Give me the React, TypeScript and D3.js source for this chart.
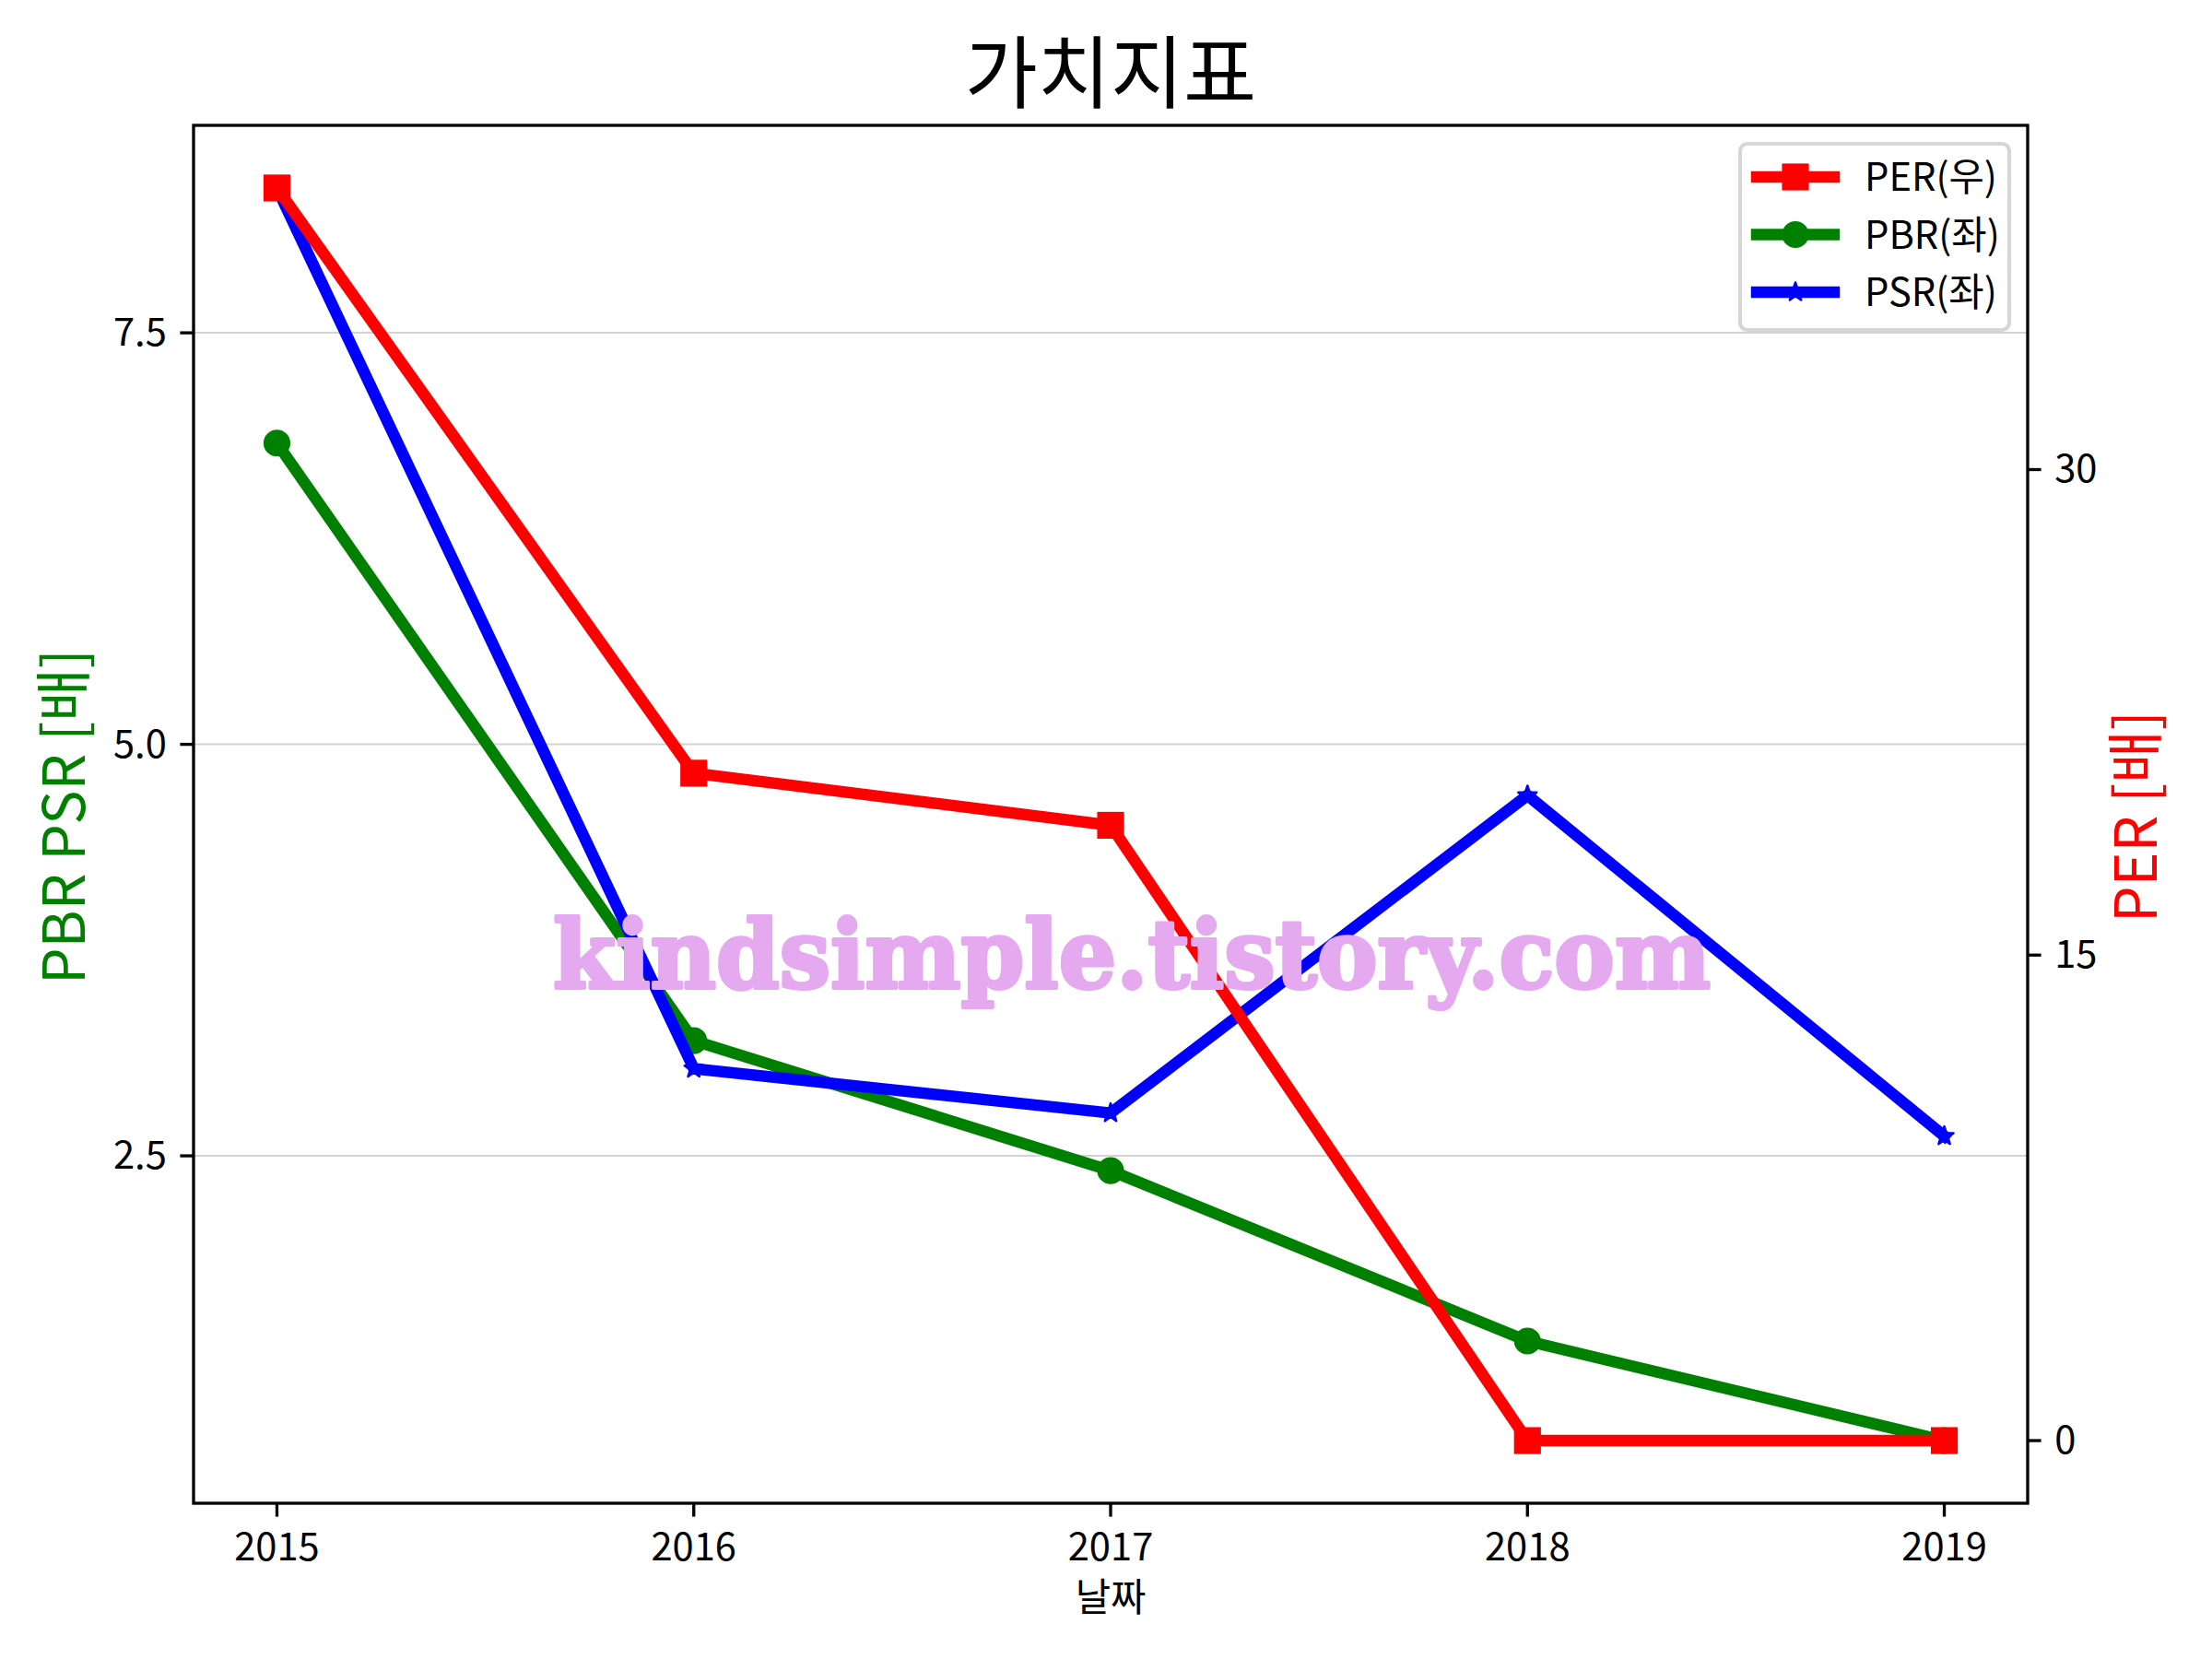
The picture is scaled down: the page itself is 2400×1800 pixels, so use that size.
import React from 'react';
import * as d3 from 'd3';

const years = [2015, 2016, 2017, 2018, 2019];
const perValues = [38.7, 20.62, 19.01, 0, 0];
const pbrValues = [6.83, 3.2, 2.41, 1.375, 0.77];
const psrValues = [8.38, 3.03, 2.76, 4.69, 2.62];
const leftTicks = [2.5, 5.0, 7.5];
const rightTicks = [0, 15, 30];
const titleText = '가치지표';
const xLabelText = '날짜';
const leftLabelText = 'PBR PSR [배]';
const rightLabelText = 'PER [배]';
const legendLabels = ['PER(우)', 'PBR(좌)', 'PSR(좌)'];
const watermarkText = 'kindsimple.tistory.com';

const W = 2400;
const H = 1800;
const L = 210;
const R = 2200;
const T = 136;
const B = 1631;
const FONT = "'Noto Sans CJK KR', 'Noto Sans', sans-serif";
const LW = 12.5;
const MS = 25;
const MEW = 4.17;

function padded(vals: number[]): [number, number] {
  const mn = d3.min(vals) as number;
  const mx = d3.max(vals) as number;
  const m = (mx - mn) * 0.05;
  return [mn - m, mx + m];
}

function starPath(cx: number, cy: number, r: number) {
  const inner = r * 0.381966;
  const pts: string[] = [];
  for (let i = 0; i < 10; i++) {
    const a = -Math.PI / 2 + (i * Math.PI) / 5;
    const rr = i % 2 === 0 ? r : inner;
    pts.push(`${cx + rr * Math.cos(a)},${cy + rr * Math.sin(a)}`);
  }
  return `M${pts.join('L')}Z`;
}

function Marker({ kind, x, y, color }: { kind: string; x: number; y: number; color: string }) {
  if (kind === 's') {
    return <rect x={x - MS / 2} y={y - MS / 2} width={MS} height={MS} fill={color} stroke={color} strokeWidth={MEW} strokeLinejoin="miter" />;
  }
  if (kind === 'o') {
    return <circle cx={x} cy={y} r={MS / 2} fill={color} stroke={color} strokeWidth={MEW} />;
  }
  return <path d={starPath(x, y, 10.5)} fill={color} stroke={color} strokeWidth={MEW * 0.6} strokeLinejoin="round" />;
}

export default function App() {
  const xDom = padded(years);
  const x = d3.scaleLinear().domain(xDom).range([L, R]);
  const yL = d3.scaleLinear().domain(padded([...pbrValues, ...psrValues])).range([B, T]);
  const yR = d3.scaleLinear().domain(padded(perValues)).range([B, T]);

  const lineL = d3.line<number>().x((_, i) => x(years[i])).y((d) => yL(d));
  const lineR = d3.line<number>().x((_, i) => x(years[i])).y((d) => yR(d));

  const series = [
    { vals: pbrValues, color: 'green', kind: 'o', scale: yL, gen: lineL },
    { vals: psrValues, color: 'blue', kind: '*', scale: yL, gen: lineL },
    { vals: perValues, color: 'red', kind: 's', scale: yR, gen: lineR },
  ];

  const legendItems = [
    { label: legendLabels[0], color: 'red', kind: 's' },
    { label: legendLabels[1], color: 'green', kind: 'o' },
    { label: legendLabels[2], color: 'blue', kind: '*' },
  ];

  const tickLen = 14.6;
  const tickW = 3.33;

  return (
    <svg width={W} height={H} viewBox={`0 0 ${W} ${H}`} style={{ position: 'absolute', left: 0, top: 0, display: 'block', background: 'white' }}>
      <rect x={0} y={0} width={W} height={H} fill="white" />
      {leftTicks.map((t) => (
        <line key={`g${t}`} x1={L} x2={R} y1={yL(t)} y2={yL(t)} stroke="#d3d3d3" strokeWidth={2} />
      ))}
      {series.map((s, si) => (
        <g key={si}>
          <path d={s.gen(s.vals) || ''} fill="none" stroke={s.color} strokeWidth={LW} strokeLinecap="square" strokeLinejoin="round" />
          {s.vals.map((v, i) => (
            <Marker key={i} kind={s.kind} x={x(years[i])} y={s.scale(v)} color={s.color} />
          ))}
        </g>
      ))}
      <rect x={L} y={T} width={R - L} height={B - T} fill="none" stroke="black" strokeWidth={3.33} />
      {years.map((yr) => (
        <g key={`x${yr}`}>
          <line x1={x(yr)} x2={x(yr)} y1={B} y2={B + tickLen} stroke="black" strokeWidth={tickW} />
          <text x={x(yr)} y={1693} textAnchor="middle" fontFamily={FONT} fontSize={41.7} fill="black">{yr}</text>
        </g>
      ))}
      {leftTicks.map((t) => (
        <g key={`l${t}`}>
          <line x1={L - tickLen} x2={L} y1={yL(t)} y2={yL(t)} stroke="black" strokeWidth={tickW} />
          <text x={L - tickLen - 14.6} y={yL(t) + 14} textAnchor="end" fontFamily={FONT} fontSize={41.7} fill="black">{t.toFixed(1)}</text>
        </g>
      ))}
      {rightTicks.map((t) => (
        <g key={`r${t}`}>
          <line x1={R} x2={R + tickLen} y1={yR(t)} y2={yR(t)} stroke="black" strokeWidth={tickW} />
          <text x={R + tickLen + 14.6} y={yR(t) + 14} textAnchor="start" fontFamily={FONT} fontSize={41.7} fill="black">{t}</text>
        </g>
      ))}
      <text x={(L + R) / 2} y={111} textAnchor="middle" fontFamily={FONT} fontSize={86} fill="black">{titleText}</text>
      <text x={(L + R) / 2} y={1748} textAnchor="middle" fontFamily={FONT} fontSize={41.7} fill="black">{xLabelText}</text>
      <text transform={`translate(92, 886) rotate(-90)`} textAnchor="middle" fontFamily={FONT} fontSize={62.5} fill="green">{leftLabelText}</text>
      <text transform={`translate(2340, 886) rotate(-90)`} textAnchor="middle" fontFamily={FONT} fontSize={62.5} fill="red">{rightLabelText}</text>
      <text x={600} y={1072} fontFamily="'DejaVu Serif', serif" fontWeight="bold" fontSize={102} fill="#E4A9EE" stroke="#E4A9EE" strokeWidth={4} strokeLinejoin="round" textLength={1256} lengthAdjust="spacingAndGlyphs">{watermarkText}</text>
      <g>
        <rect x={1888} y={156} width={292} height={202} rx={8} ry={8} fill="white" fillOpacity={0.8} stroke="#d6d6d6" strokeWidth={4.17} />
        {legendItems.map((it, i) => {
          const cy = 192 + i * 62.5;
          return (
            <g key={it.label}>
              <line x1={1906} x2={1990} y1={cy} y2={cy} stroke={it.color} strokeWidth={LW} strokeLinecap="square" />
              <Marker kind={it.kind} x={1948} y={cy} color={it.color} />
              <text x={2023} y={cy + 15} fontFamily={FONT} fontSize={41.7} fill="black">{it.label}</text>
            </g>
          );
        })}
      </g>
    </svg>
  );
}
